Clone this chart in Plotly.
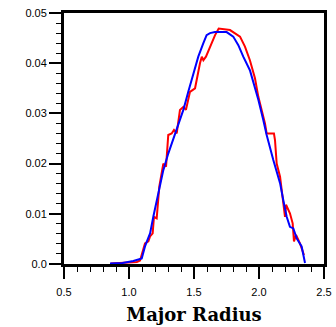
import plotly.graph_objects as go

blue_x = [0.854, 0.95, 1.033, 1.098, 1.123, 1.162, 1.187, 1.226, 1.264, 1.302, 1.367, 1.418, 1.456,
          1.495, 1.533, 1.572, 1.597, 1.623, 1.661, 1.751, 1.802, 1.841, 1.879, 1.930, 1.956,
          1.995, 2.033, 2.059, 2.110, 2.162, 2.187, 2.213, 2.238, 2.264, 2.290, 2.328, 2.354]
blue_y = [0.0001, 0.0002, 0.0006, 0.0011, 0.0035, 0.0061, 0.0094, 0.0141, 0.0187, 0.0220, 0.0267,
          0.0307, 0.0343, 0.0380, 0.0413, 0.0440, 0.0456, 0.0460, 0.0462, 0.0462, 0.0453,
          0.0436, 0.0413, 0.0386, 0.0363, 0.0327, 0.0287, 0.0257, 0.0207, 0.0161, 0.0127,
          0.0094, 0.0074, 0.0071, 0.0051, 0.0035, 0.0002]

red_x = [0.86, 0.98, 1.06, 1.085, 1.123, 1.149, 1.162, 1.182, 1.192, 1.213, 1.233, 1.264, 1.285,
         1.302, 1.328, 1.346, 1.367, 1.392, 1.418, 1.438, 1.469, 1.508, 1.520, 1.546, 1.560,
         1.572, 1.592, 1.623, 1.662, 1.690, 1.777, 1.854, 1.892, 1.930, 1.969, 1.995, 2.021,
         2.046, 2.059, 2.115, 2.123, 2.136, 2.162, 2.187, 2.200, 2.208, 2.238, 2.259, 2.269,
         2.285, 2.315, 2.346]
red_y = [0.0001, 0.0002, 0.0004, 0.0007, 0.0041, 0.0045, 0.0055, 0.0061, 0.0094, 0.0091, 0.0154,
         0.0200, 0.0194, 0.0257, 0.0260, 0.0267, 0.0260, 0.0307, 0.0313, 0.0307, 0.0343,
         0.0350, 0.0367, 0.0400, 0.0413, 0.0406, 0.0413, 0.0433, 0.0456, 0.0469, 0.0466,
         0.0453, 0.0433, 0.0406, 0.0370, 0.0333, 0.0307, 0.0280, 0.0260, 0.0260, 0.0247,
         0.0200, 0.0174, 0.0114, 0.0094, 0.0118, 0.0101, 0.0081, 0.0045, 0.0058, 0.0041, 0.0018]

x_ticks = [0.5, 1.0, 1.5, 2.0, 2.5]
x_ticklabels = ["0.5", "1.0", "1.5", "2.0", "2.5"]
y_ticks = [0.0, 0.01, 0.02, 0.03, 0.04, 0.05]
y_ticklabels = ["0.0", "0.01", "0.02", "0.03", "0.04", "0.05"]
x_title = "Major Radius"

fig = go.Figure()
fig.add_trace(go.Scatter(x=red_x, y=red_y, mode="lines", line=dict(color="#ff0000", width=2),
                         showlegend=False))
fig.add_trace(go.Scatter(x=blue_x, y=blue_y, mode="lines", line=dict(color="#0000ff", width=2),
                         showlegend=False))

axis_common = dict(showgrid=False, zeroline=False, showline=True, linecolor="black", linewidth=3,
                   mirror=True, ticks="outside", tickcolor="black", tickwidth=2, ticklen=12,
                   automargin=False,
                   tickfont=dict(family="Liberation Sans, Arial", size=11, color="black"))

fig.update_xaxes(range=[0.5, 2.5], tickvals=x_ticks, ticktext=x_ticklabels,
                 minor=dict(dtick=0.1, ticks="outside", ticklen=5, tickwidth=1, tickcolor="black"),
                 title=dict(text=x_title,
                            font=dict(family="DejaVu Serif", size=18, color="black", weight="bold"),
                            standoff=12),
                 ticklabelstandoff=4,
                 **axis_common)
fig.update_yaxes(range=[0, 0.05], tickvals=y_ticks, ticktext=y_ticklabels,
                 minor=dict(dtick=0.002, ticks="outside", ticklen=5, tickwidth=1, tickcolor="black"),
                 **axis_common)

fig.update_layout(width=336, height=327, margin=dict(l=64, r=12, t=13, b=63),
                  plot_bgcolor="white", paper_bgcolor="white")

fig.write_html("out.html")
